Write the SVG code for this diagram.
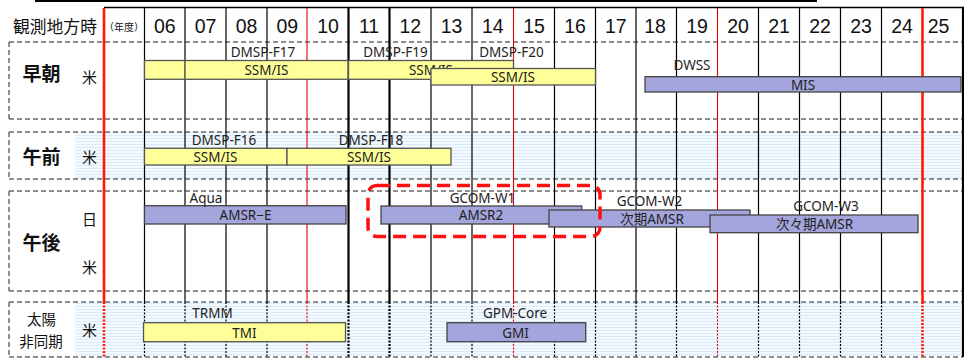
<svg xmlns="http://www.w3.org/2000/svg" width="964" height="358" viewBox="0 0 964 358">
<defs>
<pattern id="stripe" width="4" height="3" patternUnits="userSpaceOnUse">
<rect width="4" height="3" fill="#f3f9fe"/>
<rect y="0" width="4" height="1" fill="#dbecf9"/>
</pattern>
<style>
.jp{font-family:"Noto Sans CJK JP","Noto Sans",sans-serif;fill:#111}
.sec{font-size:19px;font-weight:bold}
.sub{font-size:15px}
.yr{font-family:"Liberation Sans","Open Sans",sans-serif;font-size:19.5px;fill:#111;text-anchor:middle}
.sat{font-family:"Noto Sans","Noto Sans CJK JP",sans-serif;font-size:13.5px;fill:#222;text-anchor:middle}
.bl{font-family:"Noto Sans","Noto Sans CJK JP",sans-serif;font-size:13.5px;fill:#222;text-anchor:middle}
.y{fill:#ffff99;stroke:#555;stroke-width:1.3}
.p{fill:#a5a5dd;stroke:#444;stroke-width:1.3}
.dash{stroke:#6b6b6b;stroke-width:1.5;stroke-dasharray:5 3;fill:none}
.g{stroke:#000;stroke-width:1.2}
.gk{stroke:#000;stroke-width:2.2}
.r{stroke:#e00000;stroke-width:1.1}
.rk{stroke:#ff1a00;stroke-width:2.6}
</style>
</defs>

<rect width="964" height="358" fill="#fff"/>

<!-- background bands -->
<rect x="75" y="132" width="889" height="47" fill="url(#stripe)"/>
<rect x="75" y="302" width="889" height="55" fill="url(#stripe)"/>

<!-- top lines -->
<line x1="35" y1="1" x2="817" y2="1" stroke="#000" stroke-width="2"/>
<line x1="104" y1="7.5" x2="964" y2="7.5" stroke="#000" stroke-width="1.5"/>

<!-- section dashed boxes -->
<g id="section-boxes">
<path class="dash" d="M9 42H963M9 119H963M9 42V119"/>
<path class="dash" d="M9 132H963M9 179H963M9 132V179"/>
<path class="dash" d="M9 191H963M9 291H963M9 191V291"/>
<path class="dash" d="M9 302H963M9 357H963M9 302V357"/>
</g>

<!-- grid lines -->
<g id="grid">
<g>
<line class="g" x1="144.5" y1="8" x2="144.5" y2="302"/>
<line class="g" x1="185" y1="8" x2="185" y2="302"/>
<line class="g" x1="226" y1="8" x2="226" y2="302"/>
<line class="g" x1="267" y1="8" x2="267" y2="302"/>
<line class="r" x1="307" y1="8" x2="307" y2="302"/>
<line class="gk" x1="348.5" y1="8" x2="348.5" y2="302"/>
<line class="gk" x1="389.5" y1="8" x2="389.5" y2="302"/>
<line class="g" x1="431" y1="8" x2="431" y2="302"/>
<line class="g" x1="472" y1="8" x2="472" y2="302"/>
<line class="r" x1="513.5" y1="8" x2="513.5" y2="302"/>
<line class="g" x1="554.5" y1="8" x2="554.5" y2="302"/>
<line class="g" x1="595.5" y1="8" x2="595.5" y2="302"/>
<line class="g" x1="636" y1="8" x2="636" y2="302"/>
<line class="g" x1="676.5" y1="8" x2="676.5" y2="302"/>
<line class="r" x1="717.5" y1="8" x2="717.5" y2="302"/>
<line class="g" x1="758.5" y1="8" x2="758.5" y2="302"/>
<line class="g" x1="799.5" y1="8" x2="799.5" y2="302"/>
<line class="g" x1="840.5" y1="8" x2="840.5" y2="302"/>
<line class="g" x1="881.5" y1="8" x2="881.5" y2="302"/>
<line class="rk" x1="922.5" y1="8" x2="922.5" y2="302"/>
<line class="gk" x1="963" y1="8" x2="963" y2="302"/>
<line class="rk" x1="104" y1="8" x2="104" y2="302"/>
</g>
<g stroke-dasharray="2 1.5">
<line class="g" x1="144.5" y1="302" x2="144.5" y2="357"/>
<line class="g" x1="185" y1="302" x2="185" y2="357"/>
<line class="g" x1="226" y1="302" x2="226" y2="357"/>
<line class="g" x1="267" y1="302" x2="267" y2="357"/>
<line class="r" x1="307" y1="302" x2="307" y2="357"/>
<line class="gk" x1="348.5" y1="302" x2="348.5" y2="357"/>
<line class="gk" x1="389.5" y1="302" x2="389.5" y2="357"/>
<line class="g" x1="431" y1="302" x2="431" y2="357"/>
<line class="g" x1="472" y1="302" x2="472" y2="357"/>
<line class="r" x1="513.5" y1="302" x2="513.5" y2="357"/>
<line class="g" x1="554.5" y1="302" x2="554.5" y2="357"/>
<line class="g" x1="595.5" y1="302" x2="595.5" y2="357"/>
<line class="g" x1="636" y1="302" x2="636" y2="357"/>
<line class="g" x1="676.5" y1="302" x2="676.5" y2="357"/>
<line class="r" x1="717.5" y1="302" x2="717.5" y2="357"/>
<line class="g" x1="758.5" y1="302" x2="758.5" y2="357"/>
<line class="g" x1="799.5" y1="302" x2="799.5" y2="357"/>
<line class="g" x1="840.5" y1="302" x2="840.5" y2="357"/>
<line class="g" x1="881.5" y1="302" x2="881.5" y2="357"/>
<line class="rk" x1="922.5" y1="302" x2="922.5" y2="357"/>
<line class="rk" x1="104" y1="302" x2="104" y2="357"/>
</g>
<line class="gk" x1="963" y1="302" x2="963" y2="357" stroke="#777"/>
</g>

<!-- header -->
<g id="header">
<text class="jp" x="13" y="33" font-size="16.8">観測地方時</text>
<text class="jp" x="104" y="31" font-size="10">（年度）</text>
<text class="yr" x="164.8" y="32.5">06</text>
<text class="yr" x="205.5" y="32.5">07</text>
<text class="yr" x="246.5" y="32.5">08</text>
<text class="yr" x="287.3" y="32.5">09</text>
<text class="yr" x="328" y="32.5">10</text>
<text class="yr" x="369" y="32.5">11</text>
<text class="yr" x="410.3" y="32.5">12</text>
<text class="yr" x="451.5" y="32.5">13</text>
<text class="yr" x="492.8" y="32.5">14</text>
<text class="yr" x="534" y="32.5">15</text>
<text class="yr" x="575" y="32.5">16</text>
<text class="yr" x="615.8" y="32.5">17</text>
<text class="yr" x="655" y="32.5">18</text>
<text class="yr" x="697" y="32.5">19</text>
<text class="yr" x="738" y="32.5">20</text>
<text class="yr" x="779" y="32.5">21</text>
<text class="yr" x="820" y="32.5">22</text>
<text class="yr" x="861" y="32.5">23</text>
<text class="yr" x="902" y="32.5">24</text>
<text class="yr" x="938.5" y="32.5">25</text>
</g>

<!-- row labels -->
<g id="row-labels">
<text class="jp sec" x="22.5" y="81">早朝</text>
<text class="jp sub" x="82" y="83">米</text>
<text class="jp sec" x="22.5" y="164">午前</text>
<text class="jp sub" x="82" y="163">米</text>
<text class="jp sec" x="22.5" y="250">午後</text>
<text class="jp sub" x="82" y="225">日</text>
<text class="jp sub" x="82" y="273">米</text>
<text class="jp" x="41.5" y="325" font-size="14.5" text-anchor="middle">太陽</text>
<text class="jp" x="41" y="346.5" font-size="14.5" text-anchor="middle">非同期</text>
<text class="jp sub" x="82" y="336">米</text>
</g>

<!-- early morning -->
<g id="dmsp-f17">
<rect class="y" x="144.5" y="60.5" width="40.5" height="18.8"/>
<rect class="y" x="185" y="60.5" width="163" height="18.8"/>
<text class="sat" x="263" y="57">DMSP-F17</text>
<text class="bl" x="266.5" y="75">SSM/IS</text>
</g>
<g id="dmsp-f19">
<rect class="y" x="348.5" y="60.5" width="165" height="18.8"/>
<text class="sat" x="395.5" y="57">DMSP-F19</text>
<text class="bl" x="431" y="75">SSM/IS</text>
</g>
<g id="dmsp-f20">
<rect class="y" x="431" y="68.5" width="164.5" height="16.5"/>
<text class="sat" x="511.5" y="57">DMSP-F20</text>
<text class="bl" x="513" y="82">SSM/IS</text>
</g>
<g id="dwss">
<rect class="p" x="645" y="76.7" width="316" height="15.3"/>
<text class="sat" x="692" y="70">DWSS</text>
<text class="bl" x="803" y="89.5">MIS</text>
</g>

<!-- morning -->
<g id="dmsp-f16">
<rect class="y" x="144.5" y="148.3" width="142.5" height="16.7"/>
<text class="sat" x="224" y="145">DMSP-F16</text>
<text class="bl" x="215.5" y="161.5">SSM/IS</text>
</g>
<g id="dmsp-f18">
<rect class="y" x="287" y="148.3" width="164" height="16.7"/>
<text class="sat" x="371" y="145">DMSP-F18</text>
<text class="bl" x="369" y="161.5">SSM/IS</text>
</g>

<!-- afternoon -->
<g id="aqua">
<rect class="p" x="144.5" y="205.7" width="201.5" height="18.3"/>
<text class="sat" x="206" y="203">Aqua</text>
<text class="bl" x="245.5" y="220">AMSR−E</text>
</g>
<g id="gcom-w1">
<rect class="p" x="381" y="206" width="200.7" height="18"/>
<text class="sat" x="482.5" y="203">GCOM-W1</text>
<text class="bl" x="481" y="220">AMSR2</text>
</g>
<g id="gcom-w2">
<rect class="p" x="549" y="210" width="201" height="17"/>
<text class="sat" x="649.5" y="206">GCOM-W2</text>
<text class="bl" x="652" y="224">次期AMSR</text>
</g>
<g id="gcom-w3">
<rect class="p" x="710" y="215" width="208" height="17.7"/>
<text class="sat" x="826" y="210.5">GCOM-W3</text>
<text class="bl" x="814.5" y="229">次々期AMSR</text>
</g>
<g id="highlight">
<rect x="368" y="185.5" width="232" height="51" rx="9" fill="none" stroke="#ff1010" stroke-width="3.5" stroke-dasharray="13 7"/>
</g>

<!-- non-sun-synchronous -->
<g id="trmm">
<rect class="y" x="143.5" y="322.7" width="202" height="19"/>
<text class="sat" x="212.5" y="318">TRMM</text>
<text class="bl" x="244.5" y="337.5">TMI</text>
</g>
<g id="gpm-core">
<rect class="p" x="447" y="322.7" width="138.7" height="19"/>
<text class="sat" x="515" y="318">GPM-Core</text>
<text class="bl" x="515.5" y="337.5">GMI</text>
</g>
</svg>
